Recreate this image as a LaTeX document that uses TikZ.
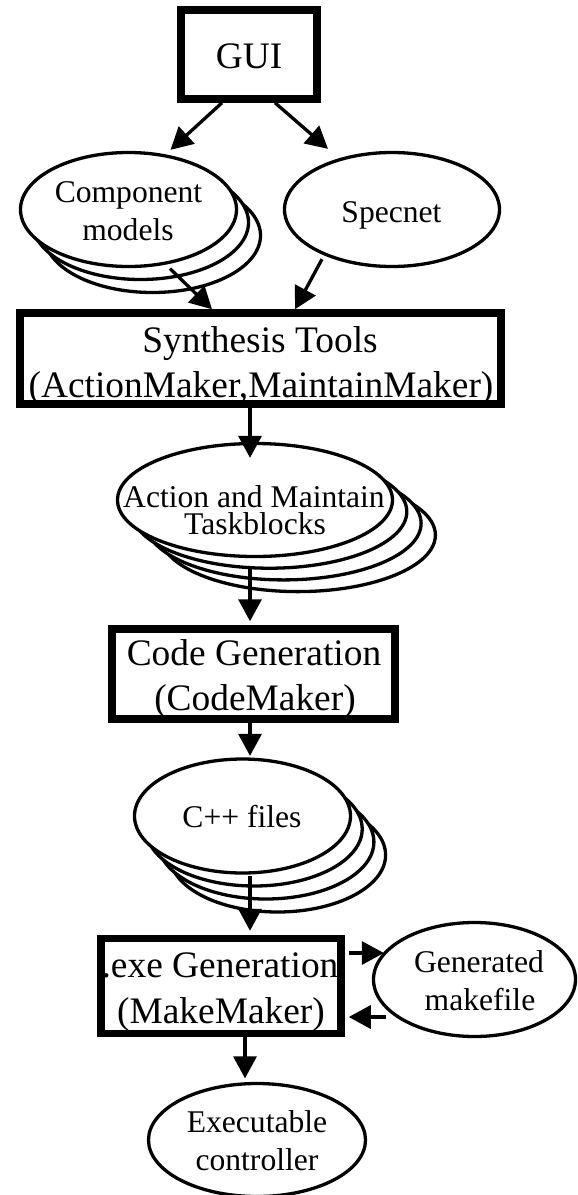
\documentclass[tikz,border=0pt]{standalone}
\usepackage{fontspec}
\setmainfont{Liberation Serif}
\usetikzlibrary{arrows.meta,calc,shapes.geometric}
\begin{document}
\begin{tikzpicture}[x=1pt,y=-1pt,
  boxnode/.style={draw, line width=7.5pt, rectangle, inner sep=0pt, fill=white},
  oval/.style={draw, line width=3.3pt, ellipse, inner sep=0pt, fill=white},
  conn/.style={line width=3.3pt, -{Triangle[length=22pt,width=23pt]}},
  bigtext/.style={font=\fontsize{37.4}{45}\selectfont, inner sep=0pt, anchor=base},
  smalltext/.style={font=\fontsize{31.6}{38}\selectfont, inner sep=0pt, anchor=base},
]
\useasboundingbox (0,0) rectangle (578,1195);
\clip (0,0) rectangle (578,1195);

% process boxes
\node[boxnode, minimum width=136pt, minimum height=89pt] (gui) at (249,54.5) {};
\node[boxnode, minimum width=481pt, minimum height=91pt] (synth) at (260.5,358.5) {};
\node[boxnode, minimum width=283pt, minimum height=90pt] (code) at (253.5,674) {};
\node[boxnode, minimum width=240pt, minimum height=95pt] (exe) at (221,986) {};

% component models (stack of three)
\node[oval, minimum width=216pt, minimum height=114pt] (comp-b2) at (152.5,235.5) {};
\node[oval, minimum width=216pt, minimum height=114pt] (comp-b1) at (140.5,222.5) {};
\node[oval, minimum width=216pt, minimum height=114pt] (comp) at (128.5,209.5) {};

% specnet
\node[oval, minimum width=215pt, minimum height=114pt] (spec) at (392,209.5) {};

% taskblocks (stack of four)
\node[oval, minimum width=275pt, minimum height=113pt] (tasks-b3) at (297.9,535.1) {};
\node[oval, minimum width=275pt, minimum height=113pt] (tasks-b2) at (283.6,523.4) {};
\node[oval, minimum width=275pt, minimum height=113pt] (tasks-b1) at (269.3,511.7) {};
\node[oval, minimum width=275pt, minimum height=113pt] (tasks) at (255,500) {};

% C++ files (stack of four)
\node[oval, minimum width=216pt, minimum height=114pt] (cpp-b3) at (277.6,855) {};
\node[oval, minimum width=216pt, minimum height=114pt] (cpp-b2) at (265.9,842) {};
\node[oval, minimum width=216pt, minimum height=114pt] (cpp-b1) at (254.2,829) {};
\node[oval, minimum width=216pt, minimum height=114pt] (cpp) at (242.5,816) {};

% generated makefile and executable
\node[oval, minimum width=202pt, minimum height=114pt] (make) at (474.5,979.5) {};
\node[oval, minimum width=217pt, minimum height=113pt] (execu) at (257,1140) {};

% labels
\node[bigtext] (gui-t) at (249,68) {GUI};
\node[bigtext] (synth-t1) at (260,352) {Synthesis Tools};
\node[bigtext] (synth-t2) at (261,397) {(ActionMaker,MaintainMaker)};
\node[bigtext] (code-t1) at (254,665) {Code Generation};
\node[bigtext] (code-t2) at (255,710) {(CodeMaker)};
\node[bigtext] (exe-t1) at (220,977) {.exe Generation};
\node[bigtext] (exe-t2) at (221,1023) {(MakeMaker)};

\node[smalltext] (comp-t1) at (128.5,202) {Component};
\node[smalltext] (comp-t2) at (128,240) {models};
\node[smalltext] (spec-t) at (391.5,222) {Specnet};
\node[smalltext] (tasks-t1) at (254,507) {Action and Maintain};
\node[smalltext] (tasks-t2) at (255,534) {Taskblocks};
\node[smalltext] (cpp-t) at (242,827) {C++ files};
\node[smalltext] (make-t1) at (479,972) {Generated};
\node[smalltext] (make-t2) at (480,1010) {makefile};
\node[smalltext] (execu-t1) at (257,1132) {Executable};
\node[smalltext] (execu-t2) at (257,1170) {controller};

% connectors
\draw[conn] ($(gui.south)+(-27,0)$) -- ($(comp.north)+(42,-1)$);
\draw[conn] ($(gui.south)+(26,0)$) -- ($(spec.north)+(-64,-2)$);
\draw[conn] ($(comp.south)+(41.5,0.5)$) -- ($(synth.north)+(-48.5,0)$);
\draw[conn] ($(spec.south)+(-70,-9)$) -- ($(synth.north)+(34.5,0)$);
\draw[conn] ($(synth.south)+(-10.5,0)$) -- ($(tasks.north)+(-5,16)$);
\draw[conn] ($(tasks.south)+(-5,8)$) -- ($(code.north)+(-3.5,-4)$);
\draw[conn] ($(code.south)+(-3.5,0)$) -- ($(cpp.north)+(7.5,-1.5)$);
\draw[conn] ($(cpp.south)+(7.5,1.5)$) -- ($(exe.north)+(29,-4)$);
\draw[conn] ($(exe.east)+(4,-33)$) -- ($(make.west)+(12,-26.5)$);
\draw[conn] ($(make.west)+(14.5,37.5)$) -- ($(exe.east)+(4,31)$);
\draw[conn] ($(exe.south)+(24,0)$) -- ($(execu.north)+(-12,-3.5)$);
\end{tikzpicture}
\end{document}
